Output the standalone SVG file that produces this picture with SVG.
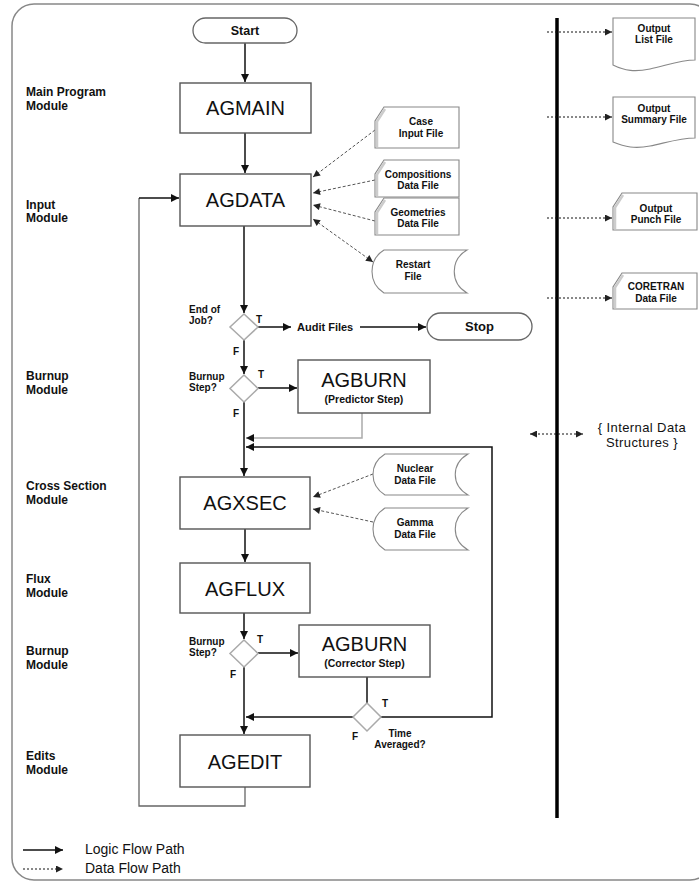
<svg xmlns="http://www.w3.org/2000/svg" width="699" height="883" viewBox="0 0 699 883">
<style>
text{font-family:"Liberation Sans",Arial,sans-serif;fill:#111}
.big{font-size:20px;text-anchor:middle}
.lbl{font-size:12px;font-weight:bold}
.sm{font-size:10px;font-weight:bold}
.fl{font-size:10px;font-weight:bold;text-anchor:middle}
.box{fill:#fff;stroke:#555;stroke-width:1.4}
.dia{fill:#fff;stroke:#aaa;stroke-width:1.5}
.term{fill:#fff;stroke:#666;stroke-width:1.3}
.file{fill:#fff;stroke:#888;stroke-width:1.1}
.band{fill:none;stroke:#ccc;stroke-width:2.5}
.flow{fill:none;stroke:#111;stroke-width:1.5}
.data{fill:none;stroke:#555;stroke-width:1;stroke-dasharray:3,2}
.dot{fill:none;stroke:#111;stroke-width:1;stroke-dasharray:2,2}
</style>
<defs>
<marker id="ah" viewBox="0 0 10 10" refX="10" refY="5" markerWidth="9" markerHeight="8" markerUnits="userSpaceOnUse" orient="auto-start-reverse"><path d="M0,0 L10,5 L0,10 z" fill="#111"/></marker>
<marker id="dh" viewBox="0 0 10 10" refX="10" refY="5" markerWidth="8" markerHeight="7" markerUnits="userSpaceOnUse" orient="auto-start-reverse"><path d="M0,0 L10,5 L0,10 z" fill="#222"/></marker>
</defs>
<rect x="12" y="4" width="700" height="876" rx="22" fill="none" stroke="#888" stroke-width="1.5"/>
<line x1="557" y1="18" x2="557" y2="818" stroke="#000" stroke-width="3.5"/>

<g id="module-labels">
<text class="lbl" x="26" y="96">Main Program</text><text class="lbl" x="26" y="109.5">Module</text>
<text class="lbl" x="26" y="208.5">Input</text><text class="lbl" x="26" y="222">Module</text>
<text class="lbl" x="26" y="380">Burnup</text><text class="lbl" x="26" y="393.5">Module</text>
<text class="lbl" x="26" y="490">Cross Section</text><text class="lbl" x="26" y="503.5">Module</text>
<text class="lbl" x="26" y="583">Flux</text><text class="lbl" x="26" y="596.5">Module</text>
<text class="lbl" x="26" y="655">Burnup</text><text class="lbl" x="26" y="668.5">Module</text>
<text class="lbl" x="26" y="760">Edits</text><text class="lbl" x="26" y="773.5">Module</text>
</g>

<g id="connectors">
<path class="flow" d="M245,43 V82" marker-end="url(#ah)"/>
<path class="flow" d="M245,133 V173" marker-end="url(#ah)"/>
<path class="flow" d="M244,226 V313" marker-end="url(#ah)"/>
<path class="flow" d="M258,327 H291" marker-end="url(#ah)"/>
<path class="flow" d="M360,327 H426" marker-end="url(#ah)"/>
<path class="flow" d="M244,340 V374" marker-end="url(#ah)"/>
<path class="flow" d="M258,388 H297" marker-end="url(#ah)"/>
<path fill="none" stroke="#aaa" stroke-width="1.5" d="M362,413 V438 H246" marker-end="url(#ah)"/>
<path class="flow" d="M381,717 H492 V447 H246" marker-end="url(#ah)"/>
<path class="flow" d="M244,402 V476" marker-end="url(#ah)"/>
<path class="flow" d="M245,529 V562" marker-end="url(#ah)"/>
<path class="flow" d="M244,613 V639" marker-end="url(#ah)"/>
<path class="flow" d="M258,653 H298" marker-end="url(#ah)"/>
<path class="flow" d="M367,677 V703"/>
<path class="flow" d="M353,717 H246" marker-end="url(#ah)"/>
<path class="flow" d="M244,667 V734" marker-end="url(#ah)"/>
<path fill="none" stroke="#666" stroke-width="1.3" d="M245,787 V806 H139 V198"/>
<path class="flow" d="M139,198 H179" marker-end="url(#ah)"/>
<path class="data" d="M375,130 L313,177" marker-end="url(#dh)"/>
<path class="data" d="M375,180 L313,193" marker-end="url(#dh)"/>
<path class="data" d="M375,221 L313,205" marker-end="url(#dh)"/>
<path class="data" d="M373,262 L313,219" marker-start="url(#dh)" marker-end="url(#dh)"/>
<path class="data" d="M373,474 L313,497" marker-end="url(#dh)"/>
<path class="data" d="M373,522 L313,509" marker-end="url(#dh)"/>
<path class="dot" d="M547,32 H612" marker-end="url(#dh)"/>
<path class="dot" d="M547,117 H612" marker-end="url(#dh)"/>
<path class="dot" d="M547,218 H612" marker-end="url(#dh)"/>
<path class="dot" d="M547,298 H612" marker-end="url(#dh)"/>
<path class="dot" d="M530,434 H583" marker-start="url(#dh)" marker-end="url(#dh)"/>
<path class="flow" d="M23,850 H63" marker-end="url(#ah)"/>
<path class="dot" d="M23,869 H63" marker-end="url(#dh)"/>
</g>

<g id="start"><rect class="term" x="193" y="18" width="104" height="25" rx="12.5"/><text x="245" y="35" text-anchor="middle" font-size="12.5" font-weight="bold">Start</text></g>
<g id="agmain"><rect class="box" x="180" y="83" width="131" height="50"/><text class="big" x="245.5" y="115">AGMAIN</text></g>
<g id="agdata"><rect class="box" x="180" y="174" width="131" height="52"/><text class="big" x="245.5" y="207">AGDATA</text></g>

<g id="case-input-file"><path class="file" d="M375,148 V121 L384,107 H459 V148 Z"/><path class="band" d="M377,147 V121.5 L385,109"/><text class="fl" x="421" y="125">Case</text><text class="fl" x="421" y="137">Input File</text></g>
<g id="compositions-data-file"><path class="file" d="M375,197 V174 L384,160 H459 V197 Z"/><path class="band" d="M377,196 V174.5 L385,162"/><text class="fl" x="418" y="178">Compositions</text><text class="fl" x="418" y="189">Data File</text></g>
<g id="geometries-data-file"><path class="file" d="M375,235 V212 L384,198 H459 V235 Z"/><path class="band" d="M377,234 V212.5 L385,200"/><text class="fl" x="418" y="216">Geometries</text><text class="fl" x="418" y="227">Data File</text></g>
<g id="restart-file"><path class="file" d="M384,250 H467 C450,260 450,283 467,293 H384 C368,283 368,260 384,250 Z"/><text class="fl" x="413" y="268">Restart</text><text class="fl" x="413" y="280">File</text></g>

<g id="end-of-job"><polygon class="dia" points="244,314 258,327 244,340 230,327"/><text class="sm" x="189" y="313">End of</text><text class="sm" x="189" y="324">Job?</text><text class="sm" x="256" y="323" font-size="11">T</text><text class="sm" x="233" y="355" font-size="11">F</text></g>
<g id="audit-files"><text x="297" y="331" font-size="11" font-weight="bold">Audit Files</text></g>
<g id="stop"><rect class="term" x="427" y="313" width="105" height="27" rx="13.5"/><text x="479.5" y="331" text-anchor="middle" font-size="13" font-weight="bold">Stop</text></g>

<g id="burnup-step-1"><polygon class="dia" points="244,375 258,388.5 244,402 230,388.5"/><text class="sm" x="189" y="380">Burnup</text><text class="sm" x="189" y="391">Step?</text><text class="sm" x="258" y="378" font-size="11">T</text><text class="sm" x="233" y="417" font-size="11">F</text></g>
<g id="agburn-predictor"><rect class="box" x="298" y="360" width="132" height="53"/><text class="big" x="364" y="387" font-size="20.5">AGBURN</text><text x="364" y="403" text-anchor="middle" font-size="10.5" font-weight="bold">(Predictor Step)</text></g>

<g id="internal-data"><text x="642" y="432" text-anchor="middle" font-size="13" letter-spacing="0.4">{ Internal Data</text><text x="642" y="446.5" text-anchor="middle" font-size="13" letter-spacing="0.4">Structures }</text></g>

<g id="agxsec"><rect class="box" x="180" y="477" width="130" height="52"/><text class="big" x="245" y="510">AGXSEC</text></g>
<g id="nuclear-data-file"><path class="file" d="M385,454 H468 C451,464 451,485 468,495 H385 C369,485 369,464 385,454 Z"/><text class="fl" x="415" y="472">Nuclear</text><text class="fl" x="415" y="484">Data File</text></g>
<g id="gamma-data-file"><path class="file" d="M385,508 H468 C451,518 451,540 468,550 H385 C369,540 369,518 385,508 Z"/><text class="fl" x="415" y="526">Gamma</text><text class="fl" x="415" y="538">Data File</text></g>

<g id="agflux"><rect class="box" x="180" y="563" width="130" height="50"/><text class="big" x="245" y="595.5">AGFLUX</text></g>
<g id="burnup-step-2"><polygon class="dia" points="244,640 258,653.5 244,667 230,653.5"/><text class="sm" x="189" y="645">Burnup</text><text class="sm" x="189" y="656">Step?</text><text class="sm" x="257" y="643" font-size="11">T</text><text class="sm" x="230" y="678" font-size="11">F</text></g>
<g id="agburn-corrector"><rect class="box" x="299" y="625" width="131" height="52"/><text class="big" x="364.5" y="651" font-size="20.5">AGBURN</text><text x="364.5" y="667" text-anchor="middle" font-size="10.5" font-weight="bold">(Corrector Step)</text></g>
<g id="time-averaged"><polygon class="dia" points="367,703 381,717 367,731 353,717"/><text class="sm" x="382" y="707" font-size="11">T</text><text class="sm" x="352" y="740" font-size="11">F</text><text class="fl" x="400" y="737">Time</text><text class="fl" x="400" y="748">Averaged?</text></g>
<g id="agedit"><rect class="box" x="180" y="735" width="130" height="52"/><text class="big" x="245" y="768.5">AGEDIT</text></g>

<g id="output-list-file"><path class="file" d="M613,18 H695 V60 C680,60 665,66 650,69 C635,72 625,71 613,65 Z"/><text class="fl" x="654" y="32">Output</text><text class="fl" x="654" y="43">List File</text></g>
<g id="output-summary-file"><path class="file" d="M613,97 H695 V138 C680,138 665,143 650,146 C635,149 625,147 613,142 Z"/><text class="fl" x="654" y="112">Output</text><text class="fl" x="654" y="123">Summary File</text></g>
<g id="output-punch-file"><path class="file" d="M613,230 V207 L622,193 H697 V230 Z"/><path class="band" d="M615,229 V207.5 L623,195"/><text class="fl" x="656" y="212">Output</text><text class="fl" x="656" y="223">Punch File</text></g>
<g id="coretran-data-file"><path class="file" d="M613,309 V287 L622,273 H697 V309 Z"/><path class="band" d="M615,308 V287.5 L623,275"/><text class="fl" x="656" y="290">CORETRAN</text><text class="fl" x="656" y="302">Data File</text></g>

<g id="legend"><text x="85" y="854" font-size="14">Logic Flow Path</text><text x="85" y="873" font-size="14">Data Flow Path</text></g>
</svg>
